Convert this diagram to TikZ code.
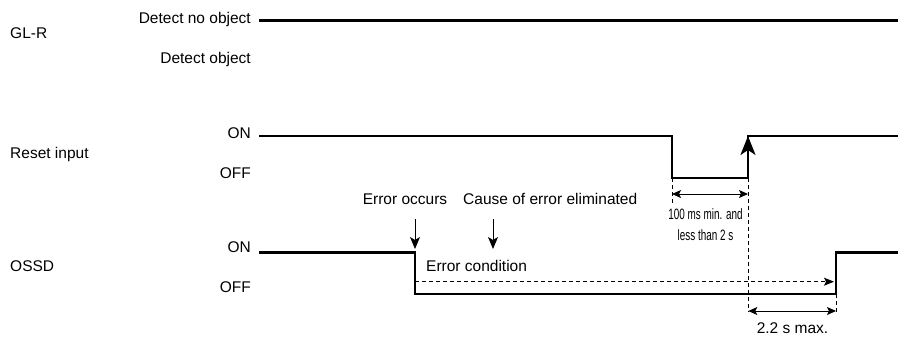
\documentclass[tikz,border=0pt]{standalone}
\usepackage{fontspec}
\setmainfont{Liberation Sans}
\newfontfamily\narrowfont[FakeStretch=0.66]{Liberation Sans}
\usetikzlibrary{arrows.meta}
\begin{document}
\begin{tikzpicture}[x=1pt,y=-1pt,
  lbl/.style={inner sep=0pt,font=\fontsize{15.5}{18}\selectfont},
  small/.style={inner sep=0pt,font=\narrowfont\fontsize{15}{18}\selectfont},
  sig/.style={line width=2.2pt,line join=miter},
  guide/.style={line width=0.8pt,dash pattern=on 4pt off 3pt},
  pointer/.style={line width=1pt,-{Stealth[length=12pt,width=10pt,inset=3pt]}},
  span/.style={line width=1pt,{Stealth[length=9pt,width=8pt,inset=2pt]}-{Stealth[length=9pt,width=8pt,inset=2pt]}}
]
\useasboundingbox (0,0) rectangle (898,338);

% signal labels
\node[lbl,anchor=base west] (glr) at (10,38.5) {GL-R};
\node[lbl,anchor=base east] (dno) at (251,23.3) {Detect no object};
\node[lbl,anchor=base east] (dob) at (251,63.3) {Detect object};
\node[lbl,anchor=base west] (rst) at (10,158) {Reset input};
\node[lbl,anchor=base east] (ron) at (251,138.3) {ON};
\node[lbl,anchor=base east] (roff) at (251,178.3) {OFF};
\node[lbl,anchor=base west] (ossd) at (10,271.7) {OSSD};
\node[lbl,anchor=base east] (oon) at (251,252.7) {ON};
\node[lbl,anchor=base east] (ooff) at (251,292.7) {OFF};

% coordinates
\coordinate (g0) at (259,20.5);
\coordinate (g1) at (898,20.5);
\coordinate (r0) at (259,136);
\coordinate (r1) at (672,136);
\coordinate (r2) at (672,178);
\coordinate (r3) at (748,178);
\coordinate (r4) at (748,136);
\coordinate (r5) at (898,136);
\coordinate (o0) at (259,252.5);
\coordinate (o1) at (415,252.5);
\coordinate (o2) at (415,294);
\coordinate (o3) at (836,294);
\coordinate (o4) at (836,252.5);
\coordinate (o5) at (898,252.5);

% signals
\draw[sig] (g0) -- (g1);
\draw[sig] (r0) -- (r1) -- (r2) -- (r3) -- (r4) -- (r5);
\draw[sig] (o0) -- (o1) -- (o2) -- (o3) -- (o4) -- (o5);
\draw[line width=2.2pt,-{Stealth[length=19pt,width=15pt,inset=5pt]}] (748,165) -- (r4);

% events
\node[lbl,anchor=base] (err) at (405,204) {Error occurs};
\node[lbl,anchor=base west] (cause) at (463,204) {Cause of error eliminated};
\coordinate (ea0) at (415,219);
\coordinate (ea1) at (415,249);
\coordinate (ca0) at (493,219);
\coordinate (ca1) at (493,249);
\draw[pointer] (ea0) -- (ea1);
\draw[pointer] (ca0) -- (ca1);
\node[lbl,anchor=base west] (econd) at (426,271.7) {Error condition};

% error condition dashed arrow
\coordinate (d0) at (415,281.7);
\coordinate (d1) at (834,281.7);
\draw[guide,-{Stealth[length=10pt,width=8pt,inset=2pt]}] (d0) -- (d1);

% reset timing
\coordinate (v1) at (672,205);
\coordinate (v2) at (748,312);
\draw[guide] (r2) -- (v1);
\draw[guide] (r3) -- (v2);
\draw[span] (672,194) -- (748,194);
\node[small,anchor=base] (t1) at (705.5,219) {100 ms min. and};
\node[small,anchor=base] (t2) at (705.5,240.7) {less than 2 s};

% OSSD timing
\coordinate (v3) at (836,313);
\draw[guide] (o3) -- (v3);
\draw[span] (748.3,311) -- (836,311);
\node[lbl,anchor=base] (t3) at (792.5,333.5) {2.2 s max.};
\end{tikzpicture}
\end{document}
